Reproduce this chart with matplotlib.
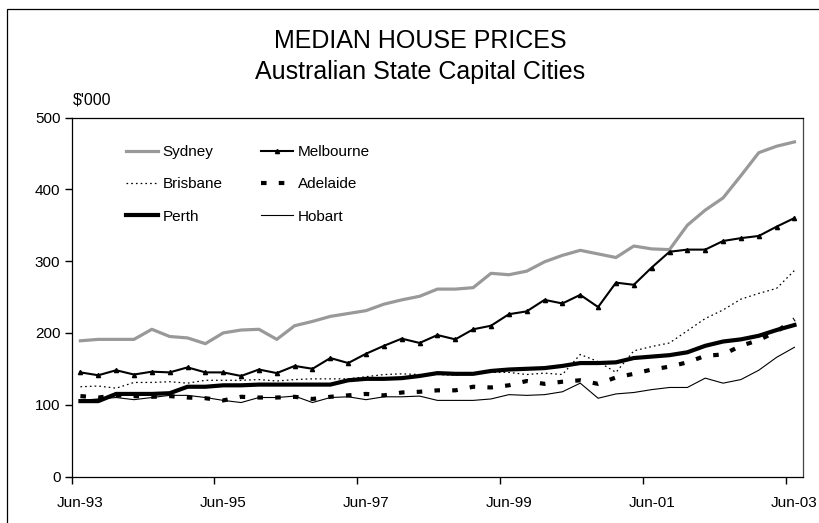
import matplotlib
matplotlib.use("Agg")
import matplotlib.pyplot as plt
import matplotlib.patches as mpatches
import numpy as np
import pandas as pd

plt.rcParams["font.family"] = ["Liberation Sans", "DejaVu Sans"]
plt.rcParams["lines.scale_dashes"] = False

# quarterly, Jun-93 .. Jun-03 ($'000)
quarters = [p.strftime("%b-%y") for p in pd.period_range("1993Q2", "2003Q2", freq="Q")]

sydney = [189, 191, 191, 191, 205, 195, 193, 185, 200, 204, 205, 191, 210, 216, 223, 227,
          231, 240, 246, 251, 261, 261, 263, 283, 281, 286, 299, 308, 315, 310, 305, 321,
          317, 316, 350, 371, 388, 419, 451, 460, 466]
melbourne = [145, 141, 148, 142, 146, 145, 152, 145, 145, 140, 149, 144, 154, 150, 165, 158,
             171, 182, 192, 186, 197, 191, 205, 210, 226, 230, 246, 241, 253, 236, 270, 267,
             291, 313, 316, 316, 328, 332, 335, 348, 360]
brisbane = [125, 126, 123, 131, 131, 132, 130, 134, 134, 134, 135, 133, 135, 136, 136, 136,
            139, 142, 143, 142, 142, 141, 144, 145, 145, 142, 144, 142, 170, 160, 145, 175,
            181, 186, 203, 220, 232, 247, 255, 262, 287]
adelaide = [112, 110, 113, 112, 111, 112, 110, 109, 106, 111, 110, 110, 111, 108, 111, 113,
            115, 113, 117, 118, 120, 120, 125, 124, 127, 133, 129, 132, 134, 129, 138, 143,
            149, 153, 159, 168, 170, 182, 190, 202, 219]
perth = [105, 105, 115, 115, 115, 116, 125, 125, 127, 127, 128, 128, 128, 128, 128, 134,
         136, 136, 137, 140, 144, 143, 143, 147, 149, 150, 151, 154, 158, 158, 159, 165,
         167, 169, 173, 182, 188, 191, 196, 204, 211]
hobart = [106, 108, 110, 107, 110, 113, 113, 110, 106, 103, 110, 110, 112, 103, 110, 111,
          107, 111, 111, 112, 106, 106, 106, 108, 114, 113, 114, 118, 130, 109, 115, 117,
          121, 124, 124, 137, 130, 135, 148, 166, 180]

W, H = 819, 523
fig = plt.figure(figsize=(W / 100, H / 100), dpi=100)
ax = fig.add_axes([71.5 / W, 1 - 476.5 / H, (803.4 - 71.5) / W, (476.5 - 117.5) / H])

x = np.arange(len(quarters))
l_syd, = ax.plot(x, sydney, color="#999999", lw=2.3, label="Sydney")
l_mel, = ax.plot(x, melbourne, color="black", lw=1.5, marker="^", ms=3, label="Melbourne")
l_bri, = ax.plot(x, brisbane, color="black", lw=0.9, dashes=(1.2, 2.2), label="Brisbane")
l_ade, = ax.plot(x, adelaide, color="black", lw=3.0, dashes=(4, 8.8), label="Adelaide")
l_per, = ax.plot(x, perth, color="black", lw=3.0, label="Perth")
l_hob, = ax.plot(x, hobart, color="black", lw=0.8, label="Hobart")

ax.set_xlim(-0.5, len(quarters) - 0.5)
ax.set_ylim(0, 500)
ax.set_yticks(range(0, 501, 100))
ax.set_xticks(x[::8])
ax.set_xticklabels(quarters[::8])
ax.set_xticks(np.arange(-0.5, len(quarters) - 1, 8), minor=True)
ax.tick_params(axis="x", which="major", length=0, pad=14, labelsize=11)
ax.tick_params(axis="x", which="minor", length=5, width=1, direction="out")
ax.tick_params(axis="y", length=5, width=1, direction="out", pad=3, labelsize=11)
for s in ax.spines.values():
    s.set_linewidth(0.9)
    s.set_color("black")
ax.spines["right"].set_color("#444444")

# row-wise order like the original: legend fills columns first
handles = [l_syd, l_bri, l_per, l_mel, l_ade, l_hob]
ax.legend(handles=handles, ncol=2, frameon=False, fontsize=11, loc="upper left",
          bbox_to_anchor=(126 / W, 1 - 145 / H), bbox_transform=fig.transFigure,
          borderpad=0, borderaxespad=0, handlelength=2.1, handletextpad=0.3,
          columnspacing=2.5, labelspacing=1.2)

fig.text(73 / W, 1 - 105 / H, "$'000", fontsize=11.5, ha="left", va="baseline")
fig.text(420 / W, 1 - 48.3 / H, "MEDIAN HOUSE PRICES", fontsize=18, ha="center", va="baseline")
fig.text(420 / W, 1 - 79 / H, "Australian State Capital Cities", fontsize=18,
         ha="center", va="baseline")

fig.patches.append(mpatches.Rectangle((7 / W, -0.1), 1.2, 1.1 - 9 / H, fill=False,
                                      lw=0.9, edgecolor="black", transform=fig.transFigure))

fig.savefig("out.png", dpi=100)
